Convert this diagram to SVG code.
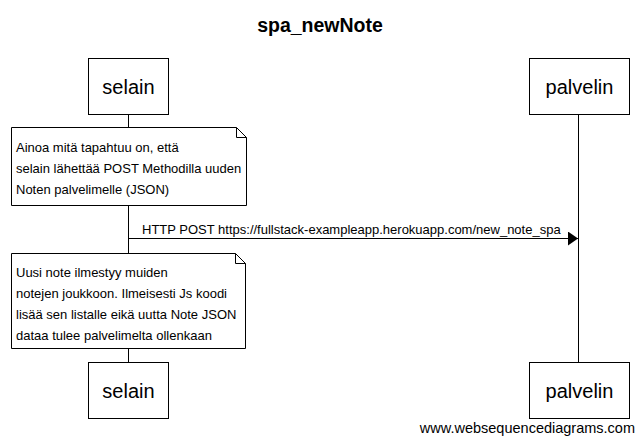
<svg xmlns="http://www.w3.org/2000/svg" width="640" height="442" viewBox="0 0 640 442">
<defs>
<style>
text{font-family:"Liberation Sans",Arial,sans-serif;fill:#000}
.box{fill:#fff;stroke:#000;stroke-width:1}
.life{stroke:#000;stroke-width:1}
.actor{font-size:20px;text-anchor:middle}
.note{font-size:13px}
.msg{font-size:13px}
</style>
<marker id="ah" viewBox="0 0 10 14" refX="10" refY="7" markerWidth="10" markerHeight="14" markerUnits="userSpaceOnUse" orient="auto">
<path d="M0,0 L10,7 L0,14 z" fill="#000"/>
</marker>
</defs>
<rect width="640" height="442" fill="#fff"/>
<text x="320" y="32" font-size="19.5" font-weight="bold" text-anchor="middle">spa_newNote</text>
<g id="connectors">
<line class="life" x1="128.5" y1="115" x2="128.5" y2="362"/>
<line class="life" x1="578.5" y1="115" x2="578.5" y2="362"/>
<line x1="128.5" y1="238.5" x2="578" y2="238.5" stroke="#000" stroke-width="1" marker-end="url(#ah)"/>
<text class="msg" x="142" y="234">HTTP POST https://fullstack-exampleapp.herokuapp.com/new_note_spa</text>
</g>
<g id="selain-top">
<rect class="box" x="88.5" y="58.5" width="80" height="56"/>
<text class="actor" x="128.5" y="94">selain</text>
</g>
<g id="palvelin-top">
<rect class="box" x="529.5" y="58.5" width="100" height="56"/>
<text class="actor" x="579.5" y="94">palvelin</text>
</g>
<g id="note1">
<path class="box" d="M11.5,127.5 H236.5 L246.5,137.5 V205.5 H11.5 Z"/>
<path d="M236.5,127.5 V137.5 H246.5" fill="none" stroke="#000"/>
<text class="note" x="16" y="152">Ainoa mitä tapahtuu on, että</text>
<text class="note" x="16" y="173">selain lähettää POST Methodilla uuden</text>
<text class="note" x="16" y="194">Noten palvelimelle (JSON)</text>
</g>
<g id="note2">
<path class="box" d="M11.5,253.5 H235.5 L245.5,263.5 V348.5 H11.5 Z"/>
<path d="M235.5,253.5 V263.5 H245.5" fill="none" stroke="#000"/>
<text class="note" x="16" y="277">Uusi note ilmestyy muiden</text>
<text class="note" x="16" y="298">notejen joukkoon. Ilmeisesti Js koodi</text>
<text class="note" x="16" y="319">lisää sen listalle eikä uutta Note JSON</text>
<text class="note" x="16" y="340">dataa tulee palvelimelta ollenkaan</text>
</g>
<g id="selain-bottom">
<rect class="box" x="88.5" y="362.5" width="80" height="56"/>
<text class="actor" x="128.5" y="398">selain</text>
</g>
<g id="palvelin-bottom">
<rect class="box" x="529.5" y="362.5" width="100" height="56"/>
<text class="actor" x="579.5" y="398">palvelin</text>
</g>
<text x="635" y="433" font-size="14.5" text-anchor="end">www.websequencediagrams.com</text>
</svg>
